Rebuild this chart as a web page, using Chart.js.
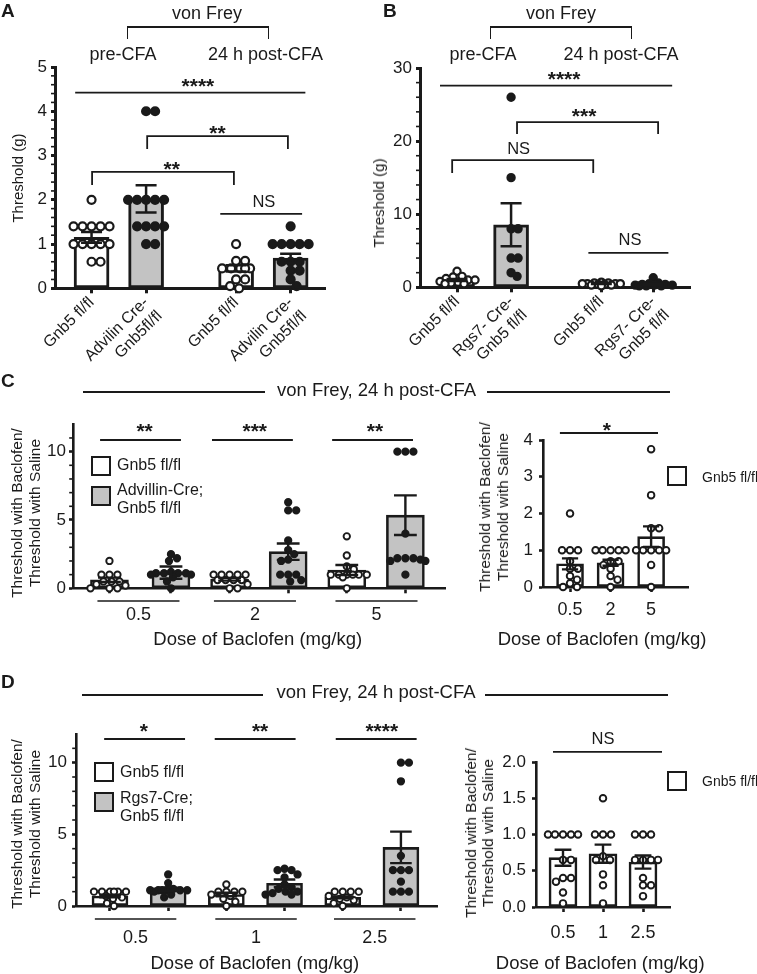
<!DOCTYPE html>
<html><head><meta charset="utf-8">
<script src="https://cdn.jsdelivr.net/npm/chart.js@4.4.1/dist/chart.umd.min.js"></script>
<style>
html,body{margin:0;padding:0;background:#fff}
body{width:757px;height:974px;position:relative;overflow:hidden;font-family:"Liberation Sans",Arial,Helvetica,sans-serif;color:#1a1a1a}
canvas{position:absolute;left:0;top:0}
.t{position:absolute;white-space:nowrap}
.ln{position:absolute;background:#1a1a1a}
.bx{position:absolute;box-sizing:border-box;border:2.5px solid #1a1a1a}
.vt{position:absolute;white-space:nowrap;text-align:center;transform:translate(-50%,-50%) rotate(-90deg)}
</style></head>
<body>
<script>
// ================= DATA =================
// Panel A
const labelsA = [['Gnb5 fl/fl'], ['Advilin Cre-', 'Gnb5fl/fl'], ['Gnb5 fl/fl'], ['Advilin Cre-', 'Gnb5fl/fl']];
const meansA = [1.15, 2.02, 0.45, 0.68];
const semA = [0.12, 0.31, 0.07, 0.10];
const ptsA_ctrlPre = [2.0, 1.4, 1.4, 1.4, 1.4, 1.4, 1.0, 1.0, 1.0, 1.0, 1.0, 0.6, 0.6];
const ptsA_koPre = [4.0, 4.0, 2.0, 2.0, 2.0, 2.0, 2.0, 1.4, 1.4, 1.4, 1.4, 1.0, 1.0];
const ptsA_ctrlPost = [1.0, 0.62, 0.62, 0.45, 0.45, 0.45, 0.45, 0.45, 0.2, 0.2, 0.05, 0.0];
const ptsA_koPost = [1.4, 1.0, 1.0, 1.0, 1.0, 1.0, 0.6, 0.6, 0.6, 0.4, 0.4, 0.2, 0.05];
const ticksA = [0, 1, 2, 3, 4, 5];
const sigA = ['****', '**', '**', 'NS'];

// Panel B
const labelsB = [['Gnb5 fl/fl'], ['Rgs7- Cre-', 'Gnb5 fl/fl'], ['Gnb5 fl/fl'], ['Rgs7- Cre-', 'Gnb5 fl/fl']];
const meansB = [1.0, 8.55, 0.5, 0.42];
const semB = [0.15, 2.95, 0.05, 0.1];
const ptsB_ctrlPre = [2.2, 1.5, 1.4, 1.2, 1.0, 1.0, 0.8, 0.7, 0.6, 0.5, 0.5];
const ptsB_koPre = [26, 15, 8, 8, 4, 4, 2, 1.5];
const ptsB_ctrlPost = [0.7, 0.6, 0.6, 0.5, 0.5, 0.5, 0.5, 0.4, 0.4, 0.3, 0.3, 0.2];
const ptsB_koPost = [1.3, 0.6, 0.5, 0.4, 0.4, 0.3, 0.3, 0.3, 0.2, 0.2, 0.2];
const ticksB = [0, 10, 20, 30];
const sigB = ['****', '***', 'NS', 'NS'];

// Panel C (left: control vs Advillin-Cre)
const dosesC = ['0.5', '2', '5'];
const meansC = [0.62, 1.15, 0.66, 2.68, 1.34, 5.35];
const semC = [0.16, 0.45, 0.1, 0.6, 0.37, 1.45];
const ptsC_ctrl05 = [2.0, 1.0, 1.0, 1.0, 0.5, 0.5, 0.5, 0.3, 0.2, 0.0, 0.0, 0.0];
const ptsC_ko05 = [2.5, 2.2, 2.0, 1.2, 1.1, 1.1, 1.1, 1.1, 1.0, 1.0, 0.8, 0.5, 0.0];
const ptsC_ctrl2 = [1.0, 1.0, 1.0, 1.0, 1.0, 0.6, 0.6, 0.6, 0.6, 0.3, 0.0, 0.0];
const ptsC_ko2 = [6.3, 5.7, 5.7, 3.5, 2.8, 2.5, 2.1, 2.0, 1.0, 1.0, 1.0, 0.6, 0.5];
const ptsC_ctrl5 = [3.8, 2.4, 1.6, 1.4, 1.0, 1.0, 1.0, 1.0, 1.0, 1.0, 0.8, 0.0];
const ptsC_ko5 = [10, 10, 10, 4.0, 2.2, 2.2, 2.2, 2.1, 2.0, 2.0, 1.0];
const ticksC = [0, 5, 10];
const sigC = ['**', '***', '**'];

// Panel C (right: control only)
const meansCR = [0.63, 0.66, 1.37];
const semCR = [0.15, 0.08, 0.28];
const ptsCR_05 = [2.0, 1.0, 1.0, 1.0, 0.7, 0.5, 0.5, 0.3, 0.2, 0.1, 0.0, 0.0];
const ptsCR_2 = [1.0, 1.0, 1.0, 1.0, 1.0, 0.7, 0.7, 0.6, 0.5, 0.3, 0.2, 0.0];
const ptsCR_5 = [3.75, 2.5, 1.6, 1.6, 1.0, 1.0, 1.0, 1.0, 1.0, 0.6, 0.0];
const ticksCR = [0, 1, 2, 3, 4];
const sigCR = ['*'];

// Panel D (left: control vs Rgs7-Cre)
const dosesD = ['0.5', '1', '2.5'];
const meansD = [0.70, 1.16, 0.80, 1.58, 0.60, 4.09];
const semD = [0.09, 0.12, 0.12, 0.27, 0.07, 1.1];
const ptsD_ctrl05 = [1.0, 1.0, 1.0, 1.0, 1.0, 1.0, 0.7, 0.6, 0.5, 0.2, 0.0];
const ptsD_ko05 = [2.2, 1.6, 1.2, 1.1, 1.1, 1.1, 1.1, 1.1, 1.1, 1.0, 0.8, 0.6];
const ptsD_ctrl1 = [1.5, 1.0, 1.0, 1.0, 1.0, 0.8, 0.7, 0.5, 0.3, 0.0];
const ptsD_ko1 = [2.6, 2.5, 2.5, 2.2, 2.0, 1.5, 1.3, 1.2, 1.0, 1.0, 0.9, 0.8, 0.8];
const ptsD_ctrl25 = [1.0, 1.0, 1.0, 1.0, 0.7, 0.6, 0.5, 0.4, 0.2, 0.0];
const ptsD_ko25 = [10, 10, 8.7, 3.5, 2.5, 2.5, 2.5, 1.7, 1.0, 1.0, 1.0];
const ticksD = [0, 5, 10];
const sigD = ['*', '**', '****'];

// Panel D (right: control only)
const meansDR = [0.68, 0.735, 0.62];
const semDR = [0.11, 0.125, 0.09];
const ptsDR_05 = [1, 1, 1, 1, 1, 0.65, 0.65, 0.4, 0.4, 0.35, 0.2, 0.05];
const ptsDR_1 = [1.5, 1, 1, 1, 0.7, 0.65, 0.65, 0.45, 0.3, 0.05];
const ptsDR_25 = [1, 1, 1, 0.65, 0.65, 0.65, 0.65, 0.4, 0.3, 0.3, 0.15];
const ticksDR = [0, 0.5, 1, 1.5, 2];
const sigDR = ['NS'];

// ================= STYLE / HELPERS =================
const FF = '"Liberation Sans", Arial, Helvetica, sans-serif';
const INK = '#1a1a1a';
const GRAY = '#c3c3c3';
const WHITE = '#ffffff';
Chart.defaults.font.family = FF;
Chart.defaults.color = INK;

function swarm(vals, xc, c) {
  const [L, T, R, B] = c.area;
  const pxX = (R - L) / (c.xmax - c.xmin), pxY = (B - T) / c.ymax;
  const d = 2 * c.r + c.pbw;
  const minD = d * c.pack;
  const maxHalf = Math.round(c.barW / 2 + 1);
  const placed = [], out = [];
  const sorted = vals.slice().sort((a, b) => b - a);
  const cands = [0];
  for (let k = 1; k <= maxHalf; k++) cands.push(k, -k);
  for (const v of sorted) {
    const py = v * pxY;
    let best = 0, bestScore = -1;
    for (const ox of cands) {
      let md = Infinity;
      for (const p of placed) { const dd = Math.hypot(p.ox - ox, p.py - py); if (dd < md) md = dd; }
      if (md >= minD) { best = ox; break; }
      if (md > bestScore) { bestScore = md; best = ox; }
    }
    placed.push({ ox: best, py });
    out.push({ x: xc + best / pxX, y: v });
  }
  return out;
}

const annotPlugin = {
  id: 'annot',
  afterDatasetsDraw(chart, args, o) {
    const ctx = chart.ctx, xs = chart.scales.x, ys = chart.scales.y, ca = chart.chartArea;
    ctx.save();
    ctx.strokeStyle = INK; ctx.fillStyle = INK; ctx.lineCap = 'butt';
    // error bars (mean +/- SEM)
    ctx.lineWidth = o.ebw;
    o.pos.forEach((p, i) => {
      const x = xs.getPixelForValue(p);
      const y1 = ys.getPixelForValue(o.means[i] + o.sem[i]);
      const y0 = ys.getPixelForValue(Math.max(0, o.means[i] - o.sem[i]));
      const hw = o.barW * 0.3;
      ctx.beginPath();
      ctx.moveTo(x, y0); ctx.lineTo(x, y1);
      ctx.moveTo(x - hw, y1); ctx.lineTo(x + hw, y1);
      ctx.moveTo(x - hw, y0); ctx.lineTo(x + hw, y0);
      ctx.stroke();
    });
    // minor ticks on y axis
    if (o.minor) {
      ctx.lineWidth = 1.6;
      for (let k = 1; k * o.minor < o.ymax - 1e-9; k++) {
        const v = k * o.minor;
        if (o.yticks.some(t => Math.abs(t - v) < 1e-6)) continue;
        const y = ys.getPixelForValue(v);
        ctx.beginPath(); ctx.moveTo(ca.left - o.aw / 2 - o.minorLen, y); ctx.lineTo(ca.left, y); ctx.stroke();
      }
    }
    // significance lines / brackets
    (o.sig || []).forEach((s, i) => {
      const label = o.sigLabels[i];
      const x1 = xs.getPixelForValue(s.x1), x2 = xs.getPixelForValue(s.x2), y = ys.getPixelForValue(s.y);
      ctx.lineWidth = o.sigW;
      ctx.beginPath();
      if (s.drop) { ctx.moveTo(x1, y + s.drop); ctx.lineTo(x1, y); ctx.lineTo(x2, y); ctx.lineTo(x2, y + s.drop); }
      else { ctx.moveTo(x1, y); ctx.lineTo(x2, y); }
      ctx.stroke();
      const star = label.indexOf('*') >= 0;
      const size = star ? o.starSize : o.nsSize;
      ctx.font = (star ? 'bold ' : '') + size + 'px ' + FF;
      ctx.textAlign = 'center'; ctx.textBaseline = 'alphabetic';
      const tx = xs.getPixelForValue(s.tx != null ? s.tx : (s.x1 + s.x2) / 2);
      const base = y - s.gap + (star ? 0.58 : 0.358) * size;
      ctx.fillText(label, tx, base);
    });
    // dose group labels and axis title
    if (o.groups) {
      const g = o.groups;
      ctx.textAlign = 'center'; ctx.textBaseline = 'alphabetic';
      g.centers.forEach((cx, i) => {
        if (g.hw) {
          ctx.lineWidth = 1.6;
          const a = xs.getPixelForValue(cx - g.hw), b = xs.getPixelForValue(cx + g.hw), yy = ca.bottom + g.lineDy;
          ctx.beginPath(); ctx.moveTo(a, yy); ctx.lineTo(b, yy); ctx.stroke();
        }
        ctx.font = g.labelSize + 'px ' + FF;
        ctx.fillText(g.labels[i], xs.getPixelForValue(cx), ca.bottom + g.labelDy);
      });
      ctx.font = g.titleSize + 'px ' + FF;
      ctx.fillText('Dose of Baclofen (mg/kg)', xs.getPixelForValue(g.titleX), ca.bottom + g.titleDy);
    }
    ctx.restore();
  }
};

function makeChart(c) {
  const canvas = document.createElement('canvas');
  canvas.width = 757; canvas.height = 974;
  canvas.style.width = '757px'; canvas.style.height = '974px';
  document.body.appendChild(canvas);
  const [L, T, R, B] = c.area;
  const YW = 40, XH = c.xh || 40;
  const datasets = [{
    type: 'bar',
    data: c.pos.map((p, i) => ({ x: p, y: c.means[i] })),
    backgroundColor: c.fills, borderColor: INK, borderWidth: c.bw,
    borderSkipped: false, barThickness: c.barW, order: 3
  }];
  c.points.forEach((vals, i) => {
    datasets.push({
      type: 'scatter', data: swarm(vals, c.pos[i], c), clip: false,
      pointRadius: c.r, pointBorderWidth: c.pbw, pointHoverRadius: c.r,
      pointBackgroundColor: c.fills[i] === WHITE ? WHITE : INK,
      pointBorderColor: INK, order: 1
    });
  });
  new Chart(canvas, {
    type: 'bar',
    data: { datasets },
    options: {
      responsive: false, animation: false, events: [],
      layout: { padding: { left: L - YW, right: 757 - R, top: T, bottom: 974 - B - XH } },
      plugins: { legend: { display: false }, tooltip: { enabled: false }, annot: c },
      scales: {
        x: {
          type: 'linear', min: c.xmin, max: c.xmax, offset: false,
          afterBuildTicks: s => { s.ticks = c.pos.map(v => ({ value: v })); },
          afterFit: s => { s.height = XH; s.paddingLeft = 0; s.paddingRight = 0; },
          ticks: {
            autoSkip: false, maxRotation: c.rot || 0, minRotation: c.rot || 0, padding: c.xPad || 0,
            font: { size: c.xFont || 16 }, color: INK,
            callback: (v, i) => (c.xlabels ? c.xlabels[i] : '')
          },
          grid: { display: true, offset: false, drawOnChartArea: false, drawTicks: true, tickLength: 5, tickWidth: c.aw, tickColor: INK },
          border: { display: true, width: c.aw, color: INK }
        },
        y: {
          type: 'linear', min: 0, max: c.ymax,
          afterBuildTicks: s => { s.ticks = c.yticks.map(v => ({ value: v })); },
          afterFit: s => { s.width = YW; s.paddingTop = 0; s.paddingBottom = 0; },
          ticks: { padding: c.yPad, font: { size: c.tickFont }, color: INK, callback: v => c.yfmt(v) },
          grid: { display: true, drawOnChartArea: false, drawTicks: true, tickLength: 4, tickWidth: c.aw, tickColor: INK },
          border: { display: true, width: c.aw, color: INK }
        }
      }
    },
    plugins: [annotPlugin]
  });
}

// ================= CHARTS =================
makeChart({
  area: [55, 67, 325, 288.3], xmin: 0.33, xmax: 5.28, pos: [1, 2, 3.65, 4.65], xh: 120,
  ymax: 5, yticks: ticksA, yfmt: v => String(v), minor: 0.2, minorLen: 2.5,
  barW: 35, bw: 3, aw: 3, ebw: 2.5, r: 4, pbw: 2.2, pack: 0.85, tickFont: 17, yPad: 4,
  xlabels: labelsA, xFont: 16, rot: 45, xPad: 0,
  means: meansA, sem: semA, fills: [WHITE, GRAY, WHITE, GRAY],
  points: [ptsA_ctrlPre, ptsA_koPre, ptsA_ctrlPost, ptsA_koPost],
  sigW: 1.8, starSize: 21, nsSize: 16.5, sigLabels: sigA,
  sig: [
    { x1: 0.70, x2: 4.92, y: 4.42, drop: 0, gap: 11.5, tx: 2.95 },
    { x1: 2.02, x2: 4.60, y: 3.44, drop: 13, gap: 8.7 },
    { x1: 1.01, x2: 3.61, y: 2.63, drop: 13, gap: 8.3, tx: 2.47 },
    { x1: 3.36, x2: 4.86, y: 1.68, drop: 0, gap: 12.7, tx: 4.16 }
  ]
});

makeChart({
  area: [420, 68, 690, 287.3], xmin: 0.315, xmax: 5.31, pos: [1, 2, 3.67, 4.63], xh: 120,
  ymax: 30, yticks: ticksB, yfmt: v => String(v), minor: 2, minorLen: 2.5,
  barW: 35, bw: 3, aw: 3, ebw: 2.5, r: 3.6, pbw: 2.2, pack: 0.7, tickFont: 17, yPad: 4,
  xlabels: labelsB, xFont: 16, rot: 45, xPad: 0,
  means: meansB, sem: semB, fills: [WHITE, GRAY, WHITE, GRAY],
  points: [ptsB_ctrlPre, ptsB_koPre, ptsB_ctrlPost, ptsB_koPost],
  sigW: 1.8, starSize: 21, nsSize: 16.5, sigLabels: sigB,
  sig: [
    { x1: 0.685, x2: 4.98, y: 27.6, drop: 0, gap: 12, tx: 2.98 },
    { x1: 2.11, x2: 4.72, y: 22.6, drop: 12, gap: 11.7, tx: 3.35 },
    { x1: 0.91, x2: 3.52, y: 17.4, drop: 13, gap: 12, tx: 2.14 },
    { x1: 3.43, x2: 4.91, y: 4.7, drop: 0, gap: 13.5, tx: 4.2 }
  ]
});

makeChart({
  area: [73, 424.3, 445, 588.3], xmin: 0.328, xmax: 6.676, pos: [0.95, 2, 3, 4, 5, 6],
  ymax: 12, yticks: ticksC, yfmt: v => String(v), minor: 1, minorLen: 2.5,
  barW: 38, bw: 2.6, aw: 2.6, ebw: 2.4, r: 3.2, pbw: 1.9, pack: 0.85, tickFont: 17, yPad: 3,
  means: meansC, sem: semC, fills: [WHITE, GRAY, WHITE, GRAY, WHITE, GRAY],
  points: [ptsC_ctrl05, ptsC_ko05, ptsC_ctrl2, ptsC_ko2, ptsC_ctrl5, ptsC_ko5],
  sigW: 1.8, starSize: 21, nsSize: 16.5, sigLabels: sigC,
  sig: [
    { x1: 0.79, x2: 2.17, y: 10.85, drop: 0, gap: 14, tx: 1.55 },
    { x1: 2.70, x2: 4.08, y: 10.85, drop: 0, gap: 14, tx: 3.43 },
    { x1: 4.75, x2: 6.13, y: 10.85, drop: 0, gap: 14, tx: 5.48 }
  ],
  groups: { centers: [1.445, 3.433, 5.507], hw: 0.70, labels: dosesC, lineDy: 12.7, labelDy: 31.7, labelSize: 18, titleX: 3.48, titleDy: 57, titleSize: 18.5 }
});

makeChart({
  area: [543, 440, 688, 587], xmin: 0.333, xmax: 3.91, pos: [1, 2, 3],
  ymax: 4, yticks: ticksCR, yfmt: v => String(v), minor: 0,
  barW: 27, bw: 2.6, aw: 2.6, ebw: 2.4, r: 3.3, pbw: 1.9, pack: 0.85, tickFont: 17, yPad: 6,
  means: meansCR, sem: semCR, fills: [WHITE, WHITE, WHITE],
  points: [ptsCR_05, ptsCR_2, ptsCR_5],
  sigW: 1.8, starSize: 21, nsSize: 16.5, sigLabels: sigCR,
  sig: [{ x1: 0.75, x2: 3.17, y: 4.19, drop: 0, gap: 8.5, tx: 1.906 }],
  groups: { centers: [1, 2, 3], hw: 0, labels: dosesC, labelDy: 28, labelSize: 18, titleX: 1.79, titleDy: 58, titleSize: 18.5 }
});

makeChart({
  area: [76, 734, 437, 906], xmin: 0.416, xmax: 6.62, pos: [1, 2, 3, 4, 5, 6],
  ymax: 12, yticks: ticksD, yfmt: v => String(v), minor: 1, minorLen: 2.5,
  barW: 36, bw: 2.6, aw: 2.6, ebw: 2.4, r: 3.2, pbw: 1.9, pack: 0.85, tickFont: 17, yPad: 5,
  means: meansD, sem: semD, fills: [WHITE, GRAY, WHITE, GRAY, WHITE, GRAY],
  points: [ptsD_ctrl05, ptsD_ko05, ptsD_ctrl1, ptsD_ko1, ptsD_ctrl25, ptsD_ko25],
  sigW: 1.8, starSize: 21, nsSize: 16.5, sigLabels: sigD,
  sig: [
    { x1: 0.90, x2: 2.29, y: 11.65, drop: 0, gap: 13.5, tx: 1.58 },
    { x1: 2.80, x2: 4.19, y: 11.65, drop: 0, gap: 13.5, tx: 3.58 },
    { x1: 4.88, x2: 6.27, y: 11.65, drop: 0, gap: 13.5, tx: 5.67 }
  ],
  groups: { centers: [1.44, 3.51, 5.55], hw: 0.70, labels: dosesD, lineDy: 13, labelDy: 37, labelSize: 18, titleX: 3.49, titleDy: 63, titleSize: 18.5 }
});

makeChart({
  area: [536, 762, 670, 907], xmin: 0.325, xmax: 3.675, pos: [1, 2, 3],
  ymax: 2, yticks: ticksDR, yfmt: v => v.toFixed(1), minor: 0,
  barW: 28, bw: 2.6, aw: 2.6, ebw: 2.4, r: 3.3, pbw: 1.9, pack: 0.85, tickFont: 17, yPad: 6,
  means: meansDR, sem: semDR, fills: [WHITE, WHITE, WHITE],
  points: [ptsDR_05, ptsDR_1, ptsDR_25],
  sigW: 1.8, starSize: 21, nsSize: 16.5, sigLabels: sigDR,
  sig: [{ x1: 0.75, x2: 3.475, y: 2.14, drop: 0, gap: 13.3, tx: 2.0 }],
  groups: { centers: [1, 2, 3], hw: 0, labels: dosesD, labelDy: 31, labelSize: 18, titleX: 1.93, titleDy: 62, titleSize: 18.5 }
});

// ================= HTML TEXT / DECORATION =================
function txt(x, base, s, size, align, weight) {
  const d = document.createElement('div');
  d.className = 't'; d.textContent = s;
  d.style.fontSize = size + 'px'; d.style.lineHeight = size + 'px';
  d.style.top = (base - 0.85 * size) + 'px';
  d.style.left = x + 'px';
  if (align === 'center') d.style.transform = 'translateX(-50%)';
  if (weight) d.style.fontWeight = weight;
  document.body.appendChild(d);
}
function hline(x1, x2, y, w) {
  const d = document.createElement('div'); d.className = 'ln';
  d.style.left = x1 + 'px'; d.style.width = (x2 - x1) + 'px'; d.style.top = (y - w / 2) + 'px'; d.style.height = w + 'px';
  document.body.appendChild(d);
}
function vline(x, y1, y2, w) {
  const d = document.createElement('div'); d.className = 'ln';
  d.style.left = (x - w / 2) + 'px'; d.style.width = w + 'px'; d.style.top = y1 + 'px'; d.style.height = (y2 - y1) + 'px';
  document.body.appendChild(d);
}
function box(x, y, s, fill) {
  const d = document.createElement('div'); d.className = 'bx';
  d.style.left = x + 'px'; d.style.top = y + 'px'; d.style.width = s + 'px'; d.style.height = s + 'px'; d.style.background = fill;
  document.body.appendChild(d);
}
function vtitle(cx, cy, lines, size, gap) {
  const d = document.createElement('div'); d.className = 'vt';
  d.style.left = cx + 'px'; d.style.top = cy + 'px';
  d.style.fontSize = size + 'px'; d.style.lineHeight = gap + 'px';
  lines.forEach((l, i) => { if (i) d.appendChild(document.createElement('br')); d.appendChild(document.createTextNode(l)); });
  document.body.appendChild(d);
}

// panel letters
txt(1, 17, 'A', 19, null, 'bold');
txt(383, 17, 'B', 19, null, 'bold');
txt(1, 387, 'C', 19, null, 'bold');
txt(1, 688, 'D', 19, null, 'bold');

// A header
txt(207, 19, 'von Frey', 18, 'center');
hline(127, 269, 27, 1.5); vline(127.7, 27, 39, 1.5); vline(268.3, 27, 39, 1.5);
txt(123, 60, 'pre-CFA', 18, 'center');
txt(265.5, 60, '24 h post-CFA', 18, 'center');
// B header
txt(561, 19, 'von Frey', 18, 'center');
hline(490, 632, 27, 1.5); vline(490.7, 27, 39, 1.5); vline(631.3, 27, 39, 1.5);
txt(483, 60, 'pre-CFA', 18, 'center');
txt(621, 60, '24 h post-CFA', 18, 'center');

// C header
hline(83, 265, 392, 1.5);
txt(376.5, 397, 'von Frey, 24 h post-CFA', 18.5, 'center');
hline(487, 670, 392, 1.5);
// D header
hline(82, 263, 695, 1.5);
txt(376, 698.5, 'von Frey, 24 h post-CFA', 18.5, 'center');
hline(485, 668, 695, 1.5);

// y titles
vtitle(18, 178, ['Threshold (g)'], 15, 18);
vtitle(379, 203, ['Threshold (g)'], 15, 18);
vtitle(26, 513, ['Threshold with Baclofen/', 'Threshold with Saline'], 15.5, 18);
vtitle(494, 507, ['Threshold with Baclofen/', 'Threshold with Saline'], 15.5, 18);
vtitle(26, 824, ['Threshold with Baclofen/', 'Threshold with Saline'], 15.5, 18);
vtitle(478.5, 833, ['Threshold with Baclofen/', 'Threshold with Saline'], 15.5, 17);

// legends
box(91, 456, 19.5, WHITE); txt(117, 471, 'Gnb5 fl/fl', 16);
box(91, 486, 19.5, GRAY); txt(117, 495.5, 'Advillin-Cre;', 16); txt(117, 514, 'Gnb5 fl/fl', 16);
box(667, 466, 20, WHITE); txt(702, 482, 'Gnb5 fl/fl', 14);
box(94, 762, 20, WHITE); txt(120, 777.5, 'Gnb5 fl/fl', 16);
box(94, 792, 20, GRAY); txt(120, 804, 'Rgs7-Cre;', 16); txt(120, 822, 'Gnb5 fl/fl', 16);
box(667, 771, 20, WHITE); txt(702, 786, 'Gnb5 fl/fl', 14);
</script>
</body></html>
